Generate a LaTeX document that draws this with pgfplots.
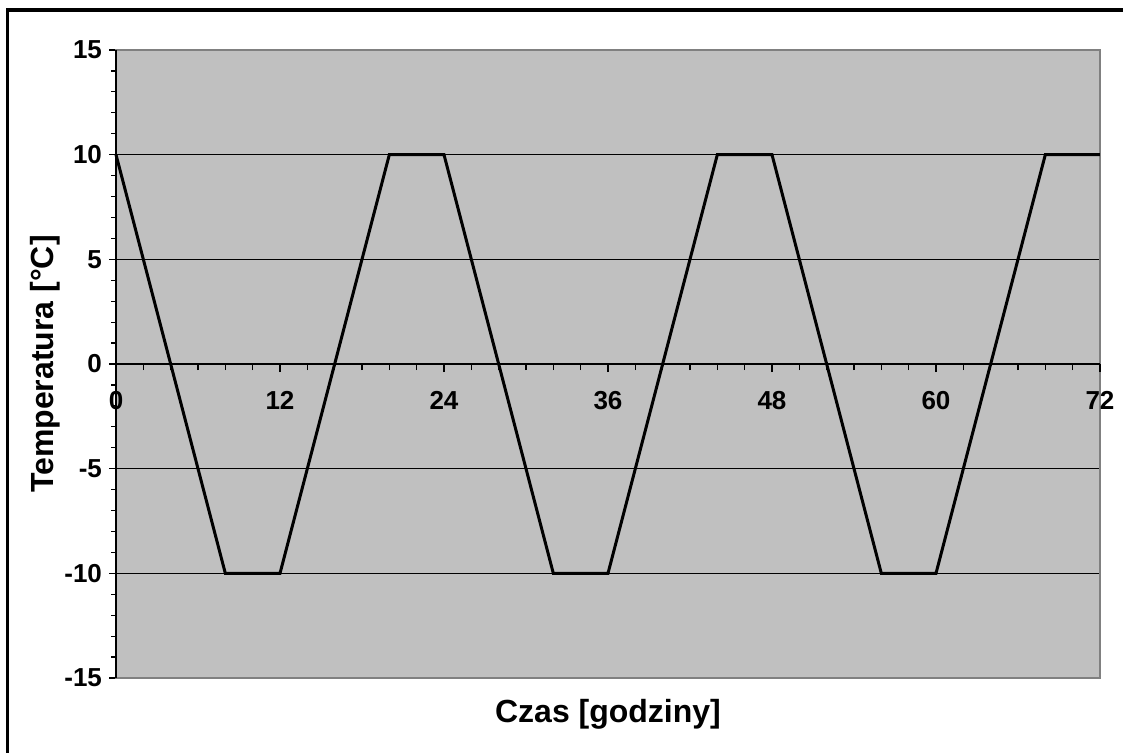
\documentclass[border=0pt]{standalone}
\usepackage{pgfplots}
\pgfplotsset{compat=1.18}
\usepackage{fontspec}
\setmainfont{Liberation Sans}
\definecolor{plotgray}{HTML}{C0C0C0}
\definecolor{framegray}{HTML}{808080}
\begin{document}
\begin{tikzpicture}
\useasboundingbox (0,0) rectangle (561.5pt,376pt);
\draw[black, line width=1.5pt] (3.5pt,-20pt) rectangle (580pt,371pt);
\begin{axis}[
  at={(58pt,37pt)}, anchor=south west,
  scale only axis, width=492pt, height=314pt,
  xmin=0, xmax=72, ymin=-15, ymax=15,
  axis background/.style={fill=plotgray},
  axis line style={framegray, line width=1pt},
  xtick=\empty,
  ytick={-15,-10,-5,0,5,10,15},
  ytick pos=left,
  minor y tick num=4,
  tick align=outside,
  y tick style={black, line width=0.6pt},
  major tick length=3.5pt, minor tick length=2.5pt,
  ymajorgrids, major grid style={black, line width=0.5pt},
  /pgf/number format/assume math mode=true,
  ticklabel style={font=\bfseries\fontsize{13}{13}\selectfont},
  xlabel={Czas [godziny]},
  ylabel={Temperatura [°C]},
  label style={font=\bfseries\fontsize{16}{17}\selectfont},
  xlabel style={at={(axis description cs:0.5,-0.058)}, anchor=center},
  ylabel style={at={(axis description cs:-0.072,0.5)}, anchor=center, rotate=0},
  clip=false,
]
\addplot[black, line width=1.5pt] coordinates {
  (0,10) (8,-10) (12,-10) (20,10) (24,10) (32,-10) (36,-10)
  (44,10) (48,10) (56,-10) (60,-10) (68,10) (72,10)
};
\draw[black, line width=1pt] (rel axis cs:0,0) -- (rel axis cs:0,1);
\end{axis}
\begin{axis}[
  at={(58pt,37pt)}, anchor=south west,
  scale only axis, width=492pt, height=314pt,
  xmin=0, xmax=72, ymin=-15, ymax=15,
  axis x line=middle, axis y line=none,
  axis line style={black, line width=0.6pt, -},
  xtick={0,12,24,36,48,60,72},
  minor x tick num=5,
  tick align=outside,
  x tick style={black, line width=0.6pt},
  major tick length=4pt, minor tick length=3pt,
  /pgf/number format/assume math mode=true,
  ticklabel style={font=\bfseries\fontsize{13}{13}\selectfont},
  xticklabel style={anchor=north, yshift=-6pt},
]
\end{axis}
\end{tikzpicture}
\end{document}
